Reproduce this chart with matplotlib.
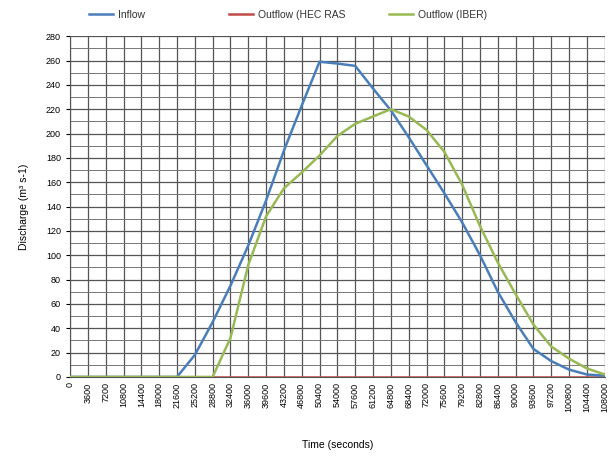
import matplotlib

matplotlib.use("Agg")
import matplotlib.pyplot as plt  # noqa: E402
import numpy as np  # noqa: E402

plt.rcParams["font.family"] = ["Liberation Sans", "DejaVu Sans"]

# ---------------- data ----------------
time_s = np.arange(0, 108001, 3600)
inflow = [0, 0, 0, 0, 0, 0, 0, 18, 45, 75, 108, 145, 186, 223, 259, 257.5,
          255.6, 237, 219, 197, 174, 151, 127, 100, 70, 45, 23, 13, 6, 2, 1]
outflow_hec = [0] * len(time_s)
outflow_iber = [0, 0, 0, 0, 0, 0, 0, 0, 0, 32, 92, 132, 155, 168, 182, 198,
                208, 214, 220, 214, 203, 185, 158, 124, 94, 68, 43, 25, 15, 7, 2]

# ---------------- figure ----------------
fig = plt.figure(figsize=(6.09, 4.58), dpi=100)
ax = fig.add_axes([0.115, 0.177, 0.878, 0.744])

l_hec, = ax.plot(time_s, outflow_hec, color="#be4b48", lw=1.8, zorder=3)
l_in, = ax.plot(time_s, inflow, color="#4a7ebb", lw=1.8, zorder=4)
l_iber, = ax.plot(time_s, outflow_iber, color="#98b954", lw=1.8, zorder=5)

ax.set_xlim(0, 108000)
ax.set_ylim(0, 280)
ax.set_xticks(time_s)
ax.set_xticklabels([str(t) for t in time_s], rotation=90, fontsize=6.5)
ax.set_yticks(np.arange(0, 281, 20))
ax.set_yticks(np.arange(0, 281, 10), minor=True)
ax.tick_params(axis="y", labelsize=6.5, length=3)
ax.tick_params(axis="x", length=0, pad=4)
ax.tick_params(axis="y", which="minor", length=0)

ax.grid(True, which="major", color="#555555", lw=0.9)
ax.grid(True, which="minor", axis="y", color="#777777", lw=0.7)
for s in ("top", "right"):
    ax.spines[s].set_visible(False)
ax.spines["left"].set_color("#555555")
ax.spines["bottom"].set_color("#555555")

ax.set_xlabel("Time (seconds)", fontsize=7.5, labelpad=20)
ax.set_ylabel("Discharge (m³ s-1)", fontsize=7.5, labelpad=12)

# three legend entries placed separately, like the reference
for handle, text, x0 in ((l_in, "Inflow", 87), (l_hec, "Outflow (HEC RAS", 227),
                         (l_iber, "Outflow (IBER)", 387)):
    fig.legend([handle], [text], loc="center left",
               bbox_to_anchor=(x0 / 609 - 0.012, 1 - 15 / 458), frameon=False,
               fontsize=7.5, handlelength=2.3, handletextpad=0.5,
               labelcolor="#333333")

fig.savefig("out.png", dpi=100)
